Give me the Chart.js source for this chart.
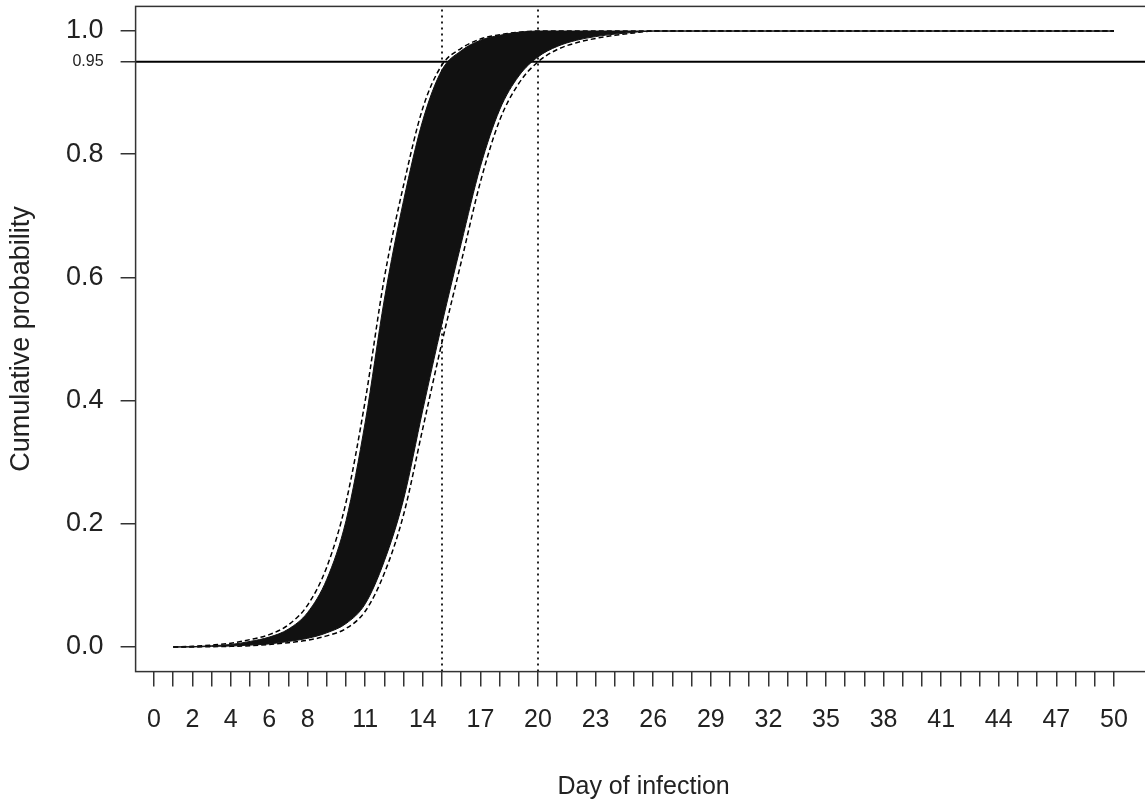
<!DOCTYPE html>
<html>
<head>
<meta charset="utf-8">
<script src="https://cdn.jsdelivr.net/npm/chart.js@4.4.1/dist/chart.umd.min.js"></script>
<style>
  html, body { margin: 0; padding: 0; background: #fff; overflow: hidden; }
  #chartCdf { display: block; }
</style>
</head>
<body>
<canvas id="chartCdf" width="1160" height="810"></canvas>
<script>
// Day of infection (x values of the curves)
const days = [1, 2, 3, 4, 5, 6, 7, 8, 9, 10, 11, 12, 13, 14, 15, 16, 17, 18, 19, 20, 21, 22, 23, 24, 25, 26, 50];

// Outermost curves of the ensemble (dashed edges)
const edgeUpper = [0, 0.001, 0.003, 0.006, 0.012, 0.020, 0.036, 0.068, 0.130, 0.235, 0.400, 0.600, 0.750, 0.875, 0.945, 0.972, 0.987, 0.994, 0.998, 1, 1, 1, 1, 1, 1, 1, 1];
const edgeLower = [0, 0, 0.0005, 0.001, 0.002, 0.004, 0.007, 0.011, 0.018, 0.030, 0.058, 0.120, 0.215, 0.355, 0.495, 0.625, 0.755, 0.855, 0.915, 0.950, 0.970, 0.981, 0.988, 0.993, 0.997, 1, 1];

// Solid black band of the remaining curves
const bandUpper = [0, 0.0005, 0.002, 0.004, 0.009, 0.016, 0.029, 0.056, 0.110, 0.205, 0.365, 0.565, 0.725, 0.855, 0.937, 0.968, 0.985, 0.993, 0.998, 1, 1, 1, 1, 1, 1, 1, 1];
const bandLower = [0, 0, 0.001, 0.0015, 0.003, 0.005, 0.009, 0.014, 0.023, 0.038, 0.070, 0.140, 0.240, 0.385, 0.525, 0.655, 0.780, 0.872, 0.927, 0.958, 0.975, 0.985, 0.991, 0.995, 0.998, 1, 1];

// Reference lines
const cutoffDays = [15, 20];
const cutoffProb = 0.95;

// Axis ticks
const xTickPositions = Array.from({ length: 51 }, (_, i) => i);
const xTickLabels = [0, 2, 4, 6, 8, 11, 14, 17, 20, 23, 26, 29, 32, 35, 38, 41, 44, 47, 50];
const yTickPositions = [0, 0.2, 0.4, 0.6, 0.8, 0.95, 1.0];

const X_MIN = -0.96, X_MAX = 51.96;
const Y_MIN = -0.04, Y_MAX = 1.04;
const FONT = 'Liberation Sans, Arial, sans-serif';

function pontos(ys) {
  return days.map((d, i) => ({ x: d, y: ys[i] }));
}

// Frame around the plot region, like R's box()
const plotBox = {
  id: 'plotBox',
  afterDraw(chart) {
    const { ctx, chartArea: a } = chart;
    ctx.save();
    ctx.strokeStyle = '#333';
    ctx.lineWidth = 1.5;
    ctx.strokeRect(a.left, a.top, a.right - a.left, a.bottom - a.top);
    ctx.restore();
  }
};

const curve = {
  pointRadius: 0,
  cubicInterpolationMode: 'monotone',
  fill: false
};

const datasets = [
  {
    ...curve,
    data: pontos(bandUpper),
    borderColor: '#111',
    borderWidth: 1,
    backgroundColor: '#111',
    fill: '+1'
  },
  {
    ...curve,
    data: pontos(bandLower),
    borderColor: '#111',
    borderWidth: 1
  },
  {
    ...curve,
    data: pontos(edgeUpper),
    borderColor: '#000',
    borderWidth: 1.5,
    borderDash: [5, 3]
  },
  {
    ...curve,
    data: pontos(edgeLower),
    borderColor: '#000',
    borderWidth: 1.5,
    borderDash: [5, 3]
  },
  {
    data: [{ x: X_MIN, y: cutoffProb }, { x: X_MAX, y: cutoffProb }],
    borderColor: '#000',
    borderWidth: 2,
    pointRadius: 0
  }
];

cutoffDays.forEach(d => {
  datasets.push({
    data: [{ x: d, y: Y_MIN }, { x: d, y: Y_MAX }],
    borderColor: '#222',
    borderWidth: 2,
    borderDash: [2, 4],
    pointRadius: 0
  });
});

new Chart(document.getElementById('chartCdf'), {
  type: 'line',
  data: { datasets },
  plugins: [plotBox],
  options: {
    responsive: false,
    animation: false,
    layout: { padding: { top: 6.4, right: 8.4, left: 0, bottom: 0 } },
    plugins: {
      legend: { display: false },
      tooltip: { enabled: false }
    },
    scales: {
      x: {
        type: 'linear',
        min: X_MIN,
        max: X_MAX,
        afterBuildTicks: scale => {
          scale.ticks = xTickPositions.map(v => ({ value: v }));
        },
        afterFit: scale => {
          scale.height = 138.4;
          scale.paddingLeft = 0;
          scale.paddingRight = 0;
        },
        grid: { drawOnChartArea: false, tickLength: 15, color: '#333', lineWidth: 1.5 },
        border: { display: false },
        ticks: {
          autoSkip: false,
          maxRotation: 0,
          padding: 19,
          color: '#222',
          font: { family: FONT, size: 25 },
          callback: v => xTickLabels.includes(v) ? String(v) : ''
        },
        title: {
          display: true,
          text: 'Day of infection',
          color: '#222',
          font: { family: FONT, size: 25 },
          padding: { top: 0, bottom: 8 }
        }
      },
      y: {
        min: Y_MIN,
        max: Y_MAX,
        afterBuildTicks: scale => {
          scale.ticks = yTickPositions.map(v => ({ value: v }));
        },
        afterFit: scale => {
          scale.width = 135.6;
          scale.paddingTop = 0;
          scale.paddingBottom = 0;
        },
        grid: { drawOnChartArea: false, tickLength: 15, color: '#333', lineWidth: 1.5 },
        border: { display: false },
        ticks: {
          padding: 17,
          color: '#222',
          font: c => (c.tick && c.tick.value === 0.95)
            ? { family: FONT, size: 16 }
            : { family: FONT, size: 27 },
          callback: v => v === 0.95 ? '0.95' : v.toFixed(1)
        },
        title: {
          display: true,
          text: 'Cumulative probability',
          color: '#222',
          font: { family: FONT, size: 27 },
          padding: { top: 5.8, bottom: 0 }
        }
      }
    }
  }
});
</script>
</body>
</html>
